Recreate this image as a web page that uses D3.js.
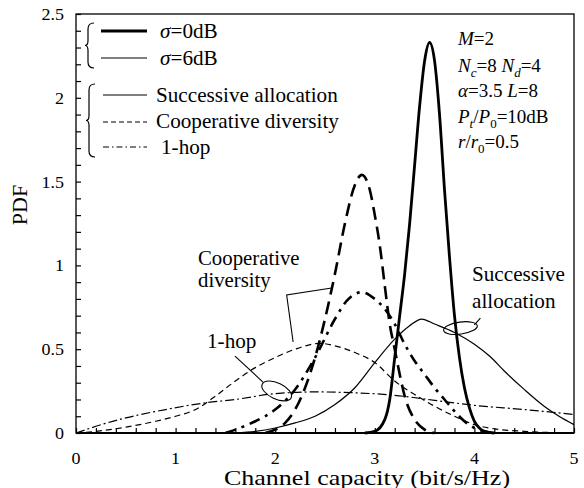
<!DOCTYPE html>
<html>
<head>
<meta charset="utf-8">
<script src="https://cdn.jsdelivr.net/npm/d3@7"></script>
<style>
  body { margin: 0; background: #fff; }
  svg { display: block; }
  text { font-family: "Liberation Serif", "Times New Roman", serif; fill: #000; }
</style>
</head>
<body>
<script>
// values: [capacity, pdf]
const succ0 = [[2.9,0],[3.0,0.01],[3.1,0.08],[3.15,0.2],[3.2,0.45],[3.25,0.7],[3.3,0.95],[3.35,1.25],[3.4,1.6],
  [3.45,1.95],[3.5,2.22],[3.55,2.33],[3.6,2.22],[3.65,1.9],[3.7,1.45],[3.75,1.05],[3.8,0.7],[3.85,0.45],
  [3.9,0.27],[3.95,0.15],[4.0,0.07],[4.05,0.03],[4.1,0.01],[4.2,0]];
const coop0 = [[1.9,0],[2.0,0.02],[2.1,0.06],[2.2,0.14],[2.3,0.27],[2.4,0.45],[2.5,0.68],[2.6,0.95],[2.7,1.25],
  [2.8,1.48],[2.87,1.54],[2.95,1.45],[3.0,1.3],[3.05,1.12],[3.1,0.88],[3.15,0.65],[3.2,0.5],[3.25,0.35],
  [3.3,0.22],[3.4,0.08],[3.5,0.02],[3.6,0]];
const hop0 = [[1.5,0],[1.6,0.02],[1.8,0.07],[2.0,0.14],[2.2,0.26],[2.4,0.45],[2.6,0.68],[2.72,0.79],[2.87,0.84],
  [3.0,0.8],[3.1,0.74],[3.2,0.65],[3.3,0.53],[3.4,0.43],[3.5,0.35],[3.6,0.27],[3.7,0.2],[3.8,0.13],
  [3.9,0.07],[4.0,0.03],[4.1,0.01],[4.2,0]];
const succ6 = [[1.6,0],[1.8,0.01],[2.0,0.03],[2.2,0.06],[2.4,0.1],[2.6,0.17],[2.8,0.27],[3.0,0.42],[3.2,0.56],
  [3.35,0.64],[3.47,0.68],[3.6,0.65],[3.8,0.6],[4.0,0.53],[4.16,0.455],[4.3,0.37],[4.5,0.26],[4.7,0.16],
  [4.85,0.1],[5.0,0.05]];
const coop6 = [[0,0],[0.2,0.01],[0.5,0.035],[0.8,0.07],[1.0,0.1],[1.2,0.14],[1.4,0.22],[1.6,0.31],[1.8,0.39],
  [2.0,0.45],[2.2,0.5],[2.45,0.535],[2.6,0.52],[2.8,0.48],[3.0,0.42],[3.2,0.31],[3.4,0.23],[3.6,0.16],
  [3.8,0.1],[4.0,0.05],[4.2,0.025],[4.5,0.01],[5.0,0]];
const hop6 = [[0,0],[0.1,0.02],[0.2,0.04],[0.5,0.09],[0.9,0.14],[1.3,0.18],[1.6,0.2],[2.0,0.235],[2.4,0.245],
  [2.8,0.24],[3.2,0.225],[3.6,0.195],[4.0,0.165],[4.5,0.14],[5.0,0.11]];

const xTicks = [0, 1, 2, 3, 4, 5];
const yTicks = [0, 0.5, 1, 1.5, 2, 2.5];
const legendSigma = ["=0dB", "=6dB"];
const legendScheme = ["Successive allocation", "Cooperative diversity", "1-hop"];

const W = 584, H = 488;

const svg = d3.select("body").append("svg")
  .attr("width", W)
  .attr("height", H);

const x = d3.scaleLinear().domain([0, 5]).range([76, 574]);
const y = d3.scaleLinear().domain([0, 2.5]).range([433, 14]);

// the figure's text is a little wider than plain Times, hence the x stretch
function txt(px, py, size, anchor, sx) {
  return svg.append("text")
    .attr("transform", `translate(${px},${py}) scale(${sx || 1.06},1)`)
    .attr("font-size", size)
    .attr("text-anchor", anchor || "start");
}

// minor ticks, pointing inwards
svg.append("g")
  .attr("transform", "translate(0,433)")
  .call(d3.axisBottom(x).tickValues(d3.range(0, 5.01, 0.2)).tickSize(-5).tickFormat(""))
  .call(g => g.select(".domain").remove())
  .selectAll("line").attr("stroke-width", 1.2);

svg.append("g")
  .attr("transform", "translate(76,0)")
  .call(d3.axisLeft(y).tickValues(d3.range(0, 2.51, 0.1)).tickSize(-5).tickFormat(""))
  .call(g => g.select(".domain").remove())
  .selectAll("line").attr("stroke-width", 1.2);

xTicks.forEach(v => txt(x(v), 464, 17, "middle").text(v));
yTicks.forEach(v => txt(64, y(v) + 6, 17, "end").text(v));

txt(367, 485, 21, "middle", 1.24).text("Channel capacity (bit/s/Hz)");
svg.append("text")
  .attr("transform", "translate(27,205) rotate(-90)")
  .attr("font-size", 22)
  .attr("text-anchor", "middle")
  .text("PDF");

// curves
const line = d3.line().x(d => x(d[0])).y(d => y(d[1])).curve(d3.curveMonotoneX);

const curves = [
  { data: coop6, w: 1.2, dash: "6,4" },
  { data: hop6, w: 1.2, dash: "9,3,2,3" },
  { data: succ6, w: 1.2, dash: null },
  { data: hop0, w: 2.6, dash: "11,6,3,6" },
  { data: coop0, w: 2.6, dash: "13,7" },
  { data: succ0, w: 2.8, dash: null }
];

curves.forEach(c => {
  svg.append("path")
    .attr("d", line(c.data))
    .attr("fill", "none")
    .attr("stroke", "#000")
    .attr("stroke-width", c.w)
    .attr("stroke-dasharray", c.dash);
});

// frame
svg.append("rect")
  .attr("x", 76).attr("y", 14)
  .attr("width", 498).attr("height", 419)
  .attr("fill", "none").attr("stroke", "#000").attr("stroke-width", 1.3);
svg.append("line")
  .attr("x1", 76).attr("x2", 574).attr("y1", 433).attr("y2", 433)
  .attr("stroke", "#000").attr("stroke-width", 2);

// legend
function brace(xr, y0, y1) {
  const ym = (y0 + y1) / 2, xb = xr - 6, xt = xr - 9;
  return `M${xr},${y0} Q${xb},${y0} ${xb},${y0 + 6} L${xb},${ym - 5} Q${xb},${ym} ${xt},${ym}` +
    ` Q${xb},${ym} ${xb},${ym + 5} L${xb},${y1 - 6} Q${xb},${y1} ${xr},${y1}`;
}
svg.append("path").attr("d", brace(94, 23, 68))
  .attr("fill", "none").attr("stroke", "#000").attr("stroke-width", 1.2);
svg.append("path").attr("d", brace(95, 84, 157))
  .attr("fill", "none").attr("stroke", "#000").attr("stroke-width", 1.2);

const legLines = [
  { y: 31, w: 3, dash: null, x0: 101 },
  { y: 58, w: 1.2, dash: null, x0: 101 },
  { y: 95, w: 1.2, dash: null, x0: 103 },
  { y: 122, w: 1.2, dash: "5,3", x0: 103 },
  { y: 147, w: 1.2, dash: "6,3,1.5,3", x0: 103 }
];
legLines.forEach(l => {
  svg.append("line")
    .attr("x1", l.x0).attr("x2", 147).attr("y1", l.y).attr("y2", l.y)
    .attr("stroke", "#000").attr("stroke-width", l.w)
    .attr("stroke-dasharray", l.dash);
});

legendSigma.forEach((s, i) => {
  const t = txt(160, 38 + i * 27, 20);
  t.append("tspan").attr("font-style", "italic").text("σ");
  t.append("tspan").text(s);
});
legendScheme.forEach((s, i) => {
  txt(i === 2 ? 161 : 156, 102 + i * 26, 20).text(s);
});

// parameter block
function rich(px, py, parts) {
  const t = txt(px, py, 19, "start", 1.0);
  parts.forEach(p => {
    const ts = t.append("tspan").text(p.t);
    if (p.i) ts.attr("font-style", "italic");
    if (p.sub) ts.attr("font-size", 13).attr("dy", 5);
    if (p.up) ts.attr("dy", -5);
  });
}
rich(458, 45, [{ t: "M", i: 1 }, { t: "=2" }]);
rich(458, 72, [{ t: "N", i: 1 }, { t: "c", i: 1, sub: 1 }, { t: "=8 ", up: 1 }, { t: "N", i: 1 },
  { t: "d", i: 1, sub: 1 }, { t: "=4", up: 1 }]);
rich(458, 97, [{ t: "α", i: 1 }, { t: "=3.5 " }, { t: "L", i: 1 }, { t: "=8" }]);
rich(458, 123, [{ t: "P", i: 1 }, { t: "t", i: 1, sub: 1 }, { t: "/", up: 1 }, { t: "P", i: 1 },
  { t: "0", sub: 1 }, { t: "=10dB", up: 1 }]);
rich(458, 148, [{ t: "r", i: 1 }, { t: "/" }, { t: "r", i: 1 }, { t: "0", sub: 1 }, { t: "=0.5", up: 1 }]);

// annotations
const ann = svg.append("g").attr("fill", "none").attr("stroke", "#000").attr("stroke-width", 1.1);

txt(198, 265, 20, "start", 1.04).text("Cooperative");
txt(198, 287, 20, "start", 1.04).text("diversity");
ann.append("path").attr("d", d3.line().x(d => x(d[0])).y(d => y(d[1]))([[2.567, 0.865], [2.115, 0.823], [2.18, 0.543]]));

txt(207, 348, 20).text("1-hop");
ann.append("path").attr("d", d3.line().x(d => x(d[0])).y(d => y(d[1]))([[1.596, 0.459], [1.877, 0.304]]));
ann.append("ellipse")
  .attr("transform", `translate(${x(2.015)},${y(0.251)}) rotate(25)`)
  .attr("rx", 16).attr("ry", 8);

txt(472, 281, 20).text("Successive");
txt(472, 308, 20).text("allocation");
ann.append("ellipse")
  .attr("transform", `translate(${x(3.86)},${y(0.626)}) rotate(-8)`)
  .attr("rx", 17).attr("ry", 6);
ann.append("path").attr("d", d3.line().x(d => x(d[0])).y(d => y(d[1]))([[4.0, 0.645], [4.06, 0.685]]));
</script>
</body>
</html>
